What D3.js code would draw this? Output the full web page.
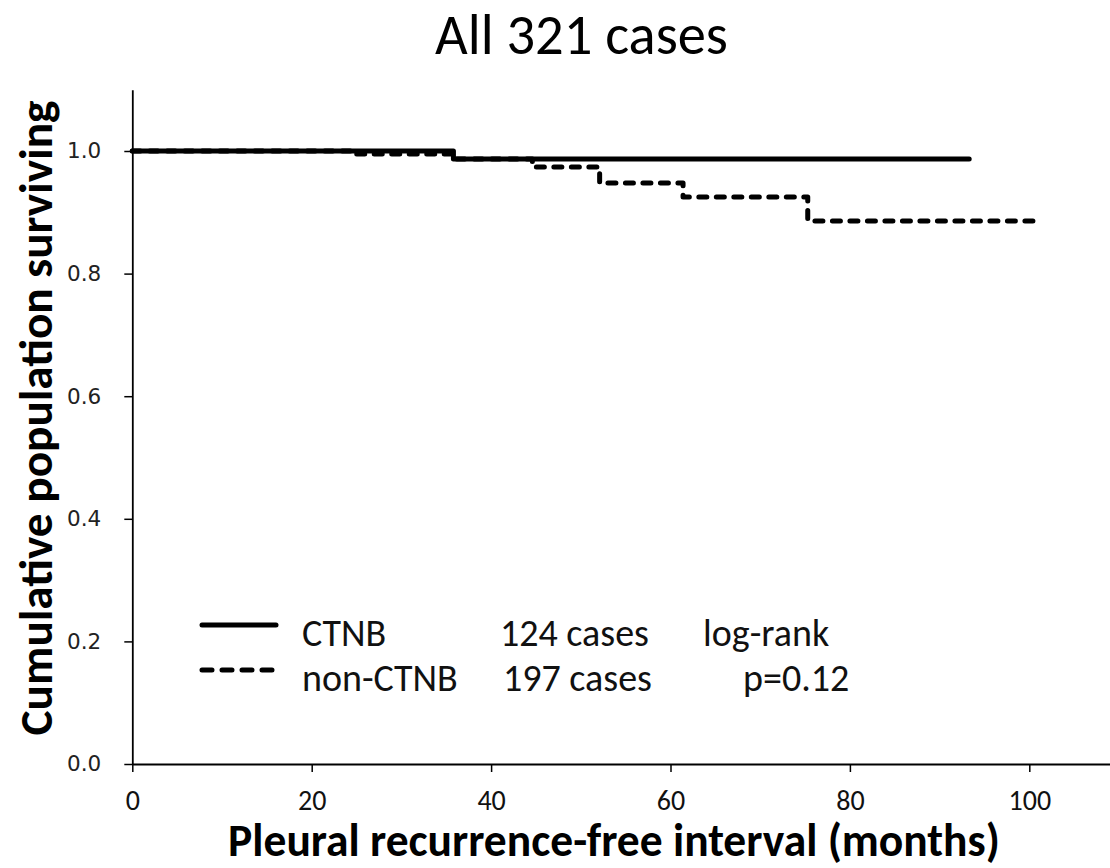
<!DOCTYPE html>
<html>
<head>
<meta charset="utf-8">
<script src="https://cdn.jsdelivr.net/npm/d3@7"></script>
<style>
  html, body { margin: 0; padding: 0; background: #fff; }
  svg { display: block; }
</style>
</head>
<body>
<svg id="chart" width="1110" height="868"></svg>
<script>
// ---- data ----
const chartTitle = "All 321 cases";
const xTitle = "Pleural recurrence-free interval (months)";
const yTitle = "Cumulative population surviving";
const xTicks = [0, 20, 40, 60, 80, 100];
const yTicks = [0.0, 0.2, 0.4, 0.6, 0.8, 1.0];

// CTNB (solid)
const ctnbTime = [0, 35.8, 93.3];
const ctnbSurv = [1.0, 0.987, 0.987];
// non-CTNB (dashed)
const nonTime = [0, 24.3, 35.8, 44.6, 52.1, 61.4, 75.3, 100.7];
const nonSurv = [1.0, 0.995, 0.987, 0.974, 0.948, 0.925, 0.886, 0.886];

const legendNames = ["CTNB", "non-CTNB"];
const legendCases = ["124 cases", "197 cases"];
const legendStats = ["log-rank", "p=0.12"];

// ---- layout ----
const svg = d3.select("#chart");
const FONT = "Carlito, Lato, 'Open Sans', sans-serif";
const x = d3.scaleLinear().domain([0, 110]).range([132.3, 132.3 + 110 * 8.97]);
const y = d3.scaleLinear().domain([0, 1.1]).range([764, 764 - 1.1 * 613]);
const DASH = "8,9.5";

function fitWidth(sel, target) {
  const w = sel.node().getComputedTextLength();
  const fs = parseFloat(sel.attr("font-size"));
  sel.attr("font-size", fs * target / w);
}

// Title
svg.append("text")
  .attr("x", 581.5).attr("y", 54)
  .attr("text-anchor", "middle")
  .attr("font-family", FONT).attr("font-size", 52)
  .attr("fill", "#000")
  .text(chartTitle)
  .call(fitWidth, 293);

// X axis
const xAxis = svg.append("g")
  .attr("transform", `translate(0,${y(0)})`)
  .call(d3.axisBottom(x).tickValues(xTicks).tickFormat(d3.format("d"))
        .tickSize(8).tickSizeOuter(0).tickPadding(18));
xAxis.select(".domain").attr("stroke", "#000").attr("stroke-width", 1.8);
xAxis.selectAll(".tick line").attr("stroke", "#000").attr("stroke-width", 1.5);
xAxis.selectAll(".tick text")
  .attr("font-family", FONT).attr("font-size", 28).attr("fill", "#111");

// Y axis
const yAxis = svg.append("g")
  .attr("transform", `translate(${x(0)},0)`)
  .call(d3.axisLeft(y).tickValues(yTicks).tickFormat(d3.format(".1f"))
        .tickSize(8).tickSizeOuter(0).tickPadding(23));
yAxis.select(".domain").attr("stroke", "#000").attr("stroke-width", 1.8);
yAxis.selectAll(".tick line").attr("stroke", "#000").attr("stroke-width", 1.5);
yAxis.selectAll(".tick text")
  .attr("font-family", "'DejaVu Sans', Verdana, sans-serif").attr("font-size", 21.5).attr("fill", "#222");

// Axis titles
svg.append("text")
  .attr("x", 614).attr("y", 856)
  .attr("text-anchor", "middle")
  .attr("font-family", FONT).attr("font-weight", "bold").attr("font-size", 38)
  .attr("fill", "#000")
  .text(xTitle)
  .call(fitWidth, 772);

svg.append("text")
  .attr("transform", `translate(52,${418}) rotate(-90)`)
  .attr("text-anchor", "middle")
  .attr("font-family", FONT).attr("font-weight", "bold").attr("font-size", 38)
  .attr("fill", "#000")
  .text(yTitle)
  .call(fitWidth, 635);

// Curves
const line = d3.line().x(d => x(d[0])).y(d => y(d[1])).curve(d3.curveStepAfter);
const ctnbData = ctnbTime.map((t, i) => [t, ctnbSurv[i]]);
const nonData = nonTime.map((t, i) => [t, nonSurv[i]]);

svg.append("path")
  .datum(nonData)
  .attr("d", line)
  .attr("fill", "none").attr("stroke", "#000").attr("stroke-width", 5)
  .attr("stroke-dasharray", DASH).attr("stroke-linecap", "round").attr("stroke-linejoin", "round");

svg.append("path")
  .datum(ctnbData)
  .attr("d", line)
  .attr("fill", "none").attr("stroke", "#000").attr("stroke-width", 5)
  .attr("stroke-linecap", "round").attr("stroke-linejoin", "round");

// Legend
const legRows = [625, 670];
const legBase = [646, 691];
const nameX = [302, 302];
const caseX = [500, 503];
const statX = [703, 743];
legendNames.forEach((name, i) => {
  const l = svg.append("line")
    .attr("x1", 202).attr("x2", 276)
    .attr("y1", legRows[i]).attr("y2", legRows[i])
    .attr("stroke", "#000").attr("stroke-width", 5).attr("stroke-linecap", "round");
  if (i === 1) l.attr("stroke-dasharray", "10,10");
  const g = svg.append("g").attr("font-family", FONT).attr("font-size", 38).attr("fill", "#111");
  g.append("text").attr("x", nameX[i]).attr("y", legBase[i]).text(name);
  g.append("text").attr("x", caseX[i]).attr("y", legBase[i]).text(legendCases[i]);
  g.append("text").attr("x", statX[i]).attr("y", legBase[i]).text(legendStats[i]);
});
</script>
</body>
</html>
